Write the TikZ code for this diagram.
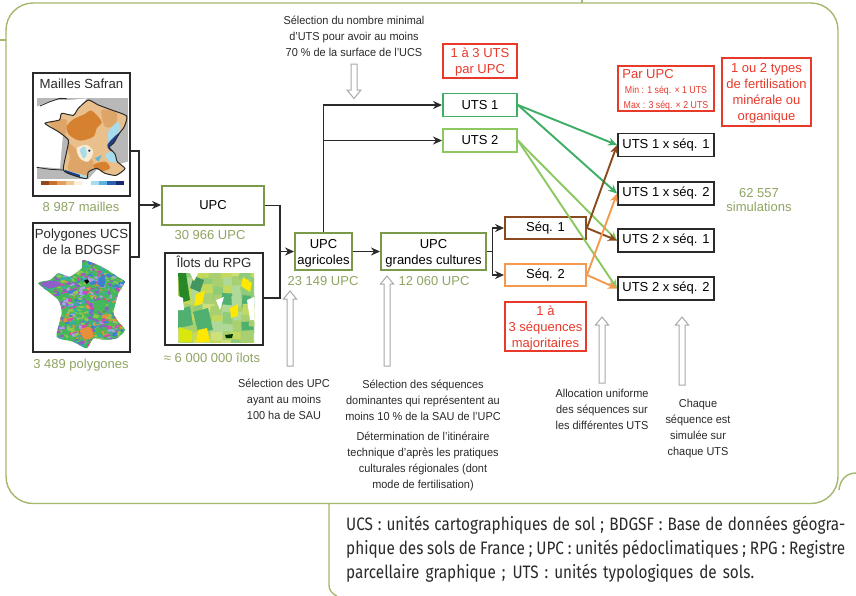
\documentclass[tikz,border=0pt]{standalone}
\usepackage{fontspec}
\setmainfont{Liberation Sans}
\newfontfamily\narrowfont[FakeStretch=0.88]{Liberation Sans}
\newfontfamily\labelfont[FakeStretch=0.95]{Liberation Sans}
\newfontfamily\legendfont[FakeStretch=0.85]{Fira Sans}
\usetikzlibrary{arrows.meta}
\definecolor{framegreen}{HTML}{A3B86C}
\definecolor{olive}{HTML}{8FA562}
\definecolor{upcgreen}{HTML}{7A9A4A}
\definecolor{utsone}{HTML}{3DAE64}
\definecolor{utstwo}{HTML}{8CC860}
\definecolor{seqone}{HTML}{8A4A1E}
\definecolor{seqtwo}{HTML}{F49A50}
\definecolor{redbox}{HTML}{E8392B}
\definecolor{ink}{HTML}{2A2A2A}
\definecolor{hollow}{HTML}{A8A8A8}
\definecolor{tanbase}{HTML}{E9C08C}
\definecolor{tandark}{HTML}{DDA567}
\definecolor{orangedark}{HTML}{D6812F}
\definecolor{cream}{HTML}{F7EBD2}
\definecolor{icy}{HTML}{A8DCEC}
\definecolor{skyb}{HTML}{5AB4E0}
\definecolor{navy}{HTML}{1F3F8A}
\definecolor{pA}{HTML}{8E5FC8}
\definecolor{pB}{HTML}{45B85A}
\definecolor{pC}{HTML}{3F7FD0}
\definecolor{pD}{HTML}{D848A8}
\definecolor{pE}{HTML}{E88F3C}
\definecolor{pF}{HTML}{35B0A0}
\definecolor{pG}{HTML}{A9A0E8}
\definecolor{pH}{HTML}{8FCB4A}
\definecolor{iA}{HTML}{C3D95E}
\definecolor{iB}{HTML}{8FCB78}
\definecolor{iC}{HTML}{4FB070}
\definecolor{iD}{HTML}{CFE07A}
\definecolor{iE}{HTML}{A8D070}
\definecolor{iF}{HTML}{B0D898}
\newcommand{\topstrut}{\rule{0pt}{12.5pt}}
\tikzset{
  framing/.style={draw=framegreen,line width=1.4},
  basebox/.style={draw=#1,line width=1.9,inner sep=0pt,align=center,fill=none,font=\fontsize{13}{16}\selectfont},
  blackbox/.style={basebox=ink},
  upcbox/.style={basebox=upcgreen},
  rednote/.style={basebox=redbox,text=redbox,font=\fontsize{13}{16}\selectfont},
  olivetext/.style={text=olive,inner sep=0pt,align=center,font=\fontsize{13}{14}\selectfont},
  smalltext/.style={text=ink,inner sep=0pt,align=center,font=\labelfont\fontsize{11.5}{16}\selectfont},
  titletext/.style={text=ink,inner sep=0pt,align=center,font=\fontsize{13.2}{16}\selectfont},
  link/.style={draw=ink,line width=1.9},
  tiplink/.style={link,-{Stealth[length=9pt,width=8pt]}},
  colourlink/.style={draw=#1,line width=1.9,-{Stealth[length=9pt,width=8pt]}},
  hollowarrow/.style={draw=hollow,fill=white,line width=1}
}
\newcommand{\arrowup}[3]{% x, top, bottom
  \path[hollowarrow] (#1-3,#3) -- (#1-3,#2+8) -- (#1-6.5,#2+8) -- (#1,#2) -- (#1+6.5,#2+8) -- (#1+3,#2+8) -- (#1+3,#3) -- cycle;}
\newcommand{\frpath}{(175,30) (205,45) (245,60) (290,78) (283,110) (268,130) (252,158) (238,172) (255,192) (262,215) (285,236) (258,256) (225,250) (200,235) (175,246) (170,266) (130,256) (100,240) (110,185) (115,150) (85,125) (45,100) (88,90) (95,70) (130,76) (145,55)}
\newcommand{\polypath}{(160,30) (215,50) (270,85) (285,95) (265,130) (255,165) (250,190) (265,215) (285,240) (260,265) (225,270) (190,265) (170,295) (130,275) (80,260) (95,190) (85,150) (25,100) (60,90) (85,70) (120,80) (155,55)}
\begin{document}
\begin{tikzpicture}[x=1pt,y=-1pt]
\useasboundingbox (0,0) rectangle (856,595);
\fill[white] (0,0) rectangle (856,595);
% frame and legend panel
\draw[framing,rounded corners=27] (6,3) rectangle (838,503.5);
\draw[framing] (0,40) -- (6,40);
\draw[framing] (582,0) -- (582,3);
\draw[framing] (329,503.5) -- (329,585) .. controls (329,590) and (332,594) .. (337,596);
\draw[framing] (839,490) .. controls (840,480) and (846,473) .. (856,473);
\node[anchor=north west,inner sep=0pt,align=left,font=\legendfont\fontsize{18}{24}\selectfont,text=ink] (legend) at (346,516)
 {\makebox[499pt][s]{UCS : unités cartographiques de sol ; BDGSF : Base de données géogra-}\\
  \makebox[499pt][s]{phique des sols de France ; UPC : unités pédoclimatiques ; RPG : Registre}\\
  \makebox[408pt][s]{parcellaire graphique ; UTS : unités typologiques de sols.}};
% Safran map
\begin{scope}[shift={(30,90)},x=0.3333pt,y=-0.3333pt]
  \fill[black!28] (20,25) rectangle (295,268);
  \fill[white] (20,50) -- (70,30) -- (120,30) -- (170,25) -- (100,120) -- (90,235) -- (20,230) -- cycle;
  \fill[white] (200,240) -- (295,215) -- (295,268) -- (175,268) -- cycle;
  \draw[ink,line width=0.8] (30,48) -- (60,35) -- (90,25) -- (110,26);
  \draw[ink,line width=0.8] (20,232) -- (60,238) -- (100,240);
  \begin{scope}
    \clip plot[smooth cycle,tension=0.35] coordinates {\frpath};
    \fill[tanbase] (20,20) rectangle (295,270);
    \fill[tandark] plot[smooth cycle] coordinates {(60,100) (110,90) (105,150) (120,200) (115,240) (170,255) (190,215) (130,170)};
    \fill[orangedark] plot[smooth cycle] coordinates {(110,110) (130,88) (165,72) (185,62) (215,95) (200,115) (190,140) (150,152) (118,135)};
    \fill[tandark] plot[smooth cycle] coordinates {(215,60) (260,70) (255,105) (225,110)};
    \fill[cream] plot[smooth cycle] coordinates {(140,175) (170,165) (190,185) (175,215) (150,205)};
    \fill[icy] plot[smooth cycle] coordinates {(150,180) (165,170) (170,195) (160,205)};
    \fill[navy] (178,182) circle (4);
    \fill[orangedark] plot[smooth cycle] coordinates {(190,225) (225,215) (240,235) (205,245)};
    \fill[icy] plot[smooth cycle] coordinates {(235,125) (265,95) (270,120) (240,165)};
    \fill[navy] plot[smooth cycle] coordinates {(232,165) (265,130) (295,118) (290,150) (250,185)};
    \fill[icy] plot[smooth cycle] coordinates {(225,195) (250,185) (262,215) (240,215)};
    \fill[skyb] (195,205) -- (215,195) -- (205,215) -- cycle;
    \fill[icy] (100,238) -- (170,258) -- (170,270) -- (100,250) -- cycle;
    \fill[navy] (105,240) -- (150,255) -- (150,262) -- (105,248) -- cycle;
  \end{scope}
  \draw[ink,line width=1] plot[smooth cycle,tension=0.35] coordinates {\frpath};
  \foreach \c [count=\k from 0] in {8C4A1C,C8702A,DFA05F,F0C890,FAF0DC,FFFFFF,A8DCEC,5AB4E0,2A60B0,1A2A70} {
    \definecolor{tmpc}{HTML}{\c}
    \fill[tmpc] (32+25*\k,272) rectangle ++(25,14);
  }
\end{scope}
% polygons map
\begin{scope}[shift={(30,250)},x=0.3333pt,y=-0.3333pt]
  \begin{scope}
    \clip plot[smooth cycle,tension=0.35] coordinates {\polypath};
    \fill[pB] (20,25) rectangle (290,300);
    \pgfmathsetseed{11}
    \foreach \i in {1,...,1100} {
      \pgfmathsetmacro\px{20+rnd*270}
      \pgfmathsetmacro\py{25+rnd*275}
      \pgfmathsetmacro\dxa{5+rnd*12}
      \pgfmathsetmacro\dya{-7+rnd*14}
      \pgfmathsetmacro\dxb{-6+rnd*12}
      \pgfmathsetmacro\dyb{3+rnd*8}
      \pgfmathparse{{"pA","pB","pC","pD","pE","pF","pG","pH","pB","pF","pA","pH"}[int(rnd*12)]}
      \edef\cn{\pgfmathresult}
      \fill[\cn] (\px,\py) -- ++(\dxa,\dya) -- ++(\dxb,\dyb) -- ++(-\dxa,-\dya*0.6) -- cycle;
    }
    \fill[pE] plot[smooth cycle] coordinates {(150,240) (180,232) (190,260) (165,268)};
    \fill[pA] plot[smooth cycle] coordinates {(30,100) (70,92) (90,105) (60,115)};
    \fill[pC] plot[smooth cycle] coordinates {(205,85) (225,78) (222,110) (205,105)};
    \fill[pB] plot[smooth cycle] coordinates {(190,155) (230,150) (220,180) (195,180)};
    \fill[pD] (120,150) circle (6);
  \end{scope}
  \fill[black] (162,92) -- (172,88) -- (178,95) -- (170,102) -- cycle;
  \fill[black] (222,186) circle (2);
\end{scope}
% ilots map
\begin{scope}
  \clip (178,273) rectangle (254,342);
  \fill[iA] (178,273) rectangle (254,342);
  \pgfmathsetseed{5}
  \foreach \cx in {172,182,...,254} \foreach \cy in {268,277,...,342} {
    \pgfmathsetmacro\jx{-2+rnd*4}
    \pgfmathsetmacro\jy{-2+rnd*4}
    \pgfmathsetmacro\rt{-10+rnd*20}
    \pgfmathparse{{"iA","iB","iC","iD","iE","iF","iA","iE"}[int(rnd*8)]}
    \edef\cn{\pgfmathresult}
    \fill[\cn,rotate around={\rt:(\cx+\jx,\cy+\jy)}] (\cx+\jx,\cy+\jy) rectangle ++(13,12);
  }
  \fill[green!45!black!85] (178,273) -- (186,273) -- (190,300) -- (180,303) -- cycle;
  \fill[iC!85!black] (194,276) -- (204,280) -- (200,292) -- (190,288) -- cycle;
  \fill[iC] (193,312) -- (208,308) -- (213,330) -- (198,332) -- cycle;
  \fill[iC] (178,310) -- (190,306) -- (193,325) -- (178,328) -- cycle;
  \fill[yellow!90!orange] (196,294) -- (205,291) -- (202,304) -- (194,306) -- cycle;
  \fill[yellow!90!orange] (198,330) -- (207,328) -- (210,342) -- (196,342) -- cycle;
  \fill[yellow!90!orange] (243,277) -- (252,283) -- (250,292) -- (241,286) -- cycle;
  \fill[yellow!90!orange] (230,308) -- (238,304) -- (238,316) -- (231,318) -- cycle;
  \fill[yellow!85!green] (179,327) -- (192,331) -- (192,342) -- (179,342) -- cycle;
  \fill[white] (178,296) -- (183,298) -- (184,310) -- (178,310) -- cycle;
  \fill[white] (190,273) -- (198,273) -- (194,281) -- cycle;
  \fill[white] (216,300) -- (224,297) -- (220,310) -- cycle;
  \fill[white] (247,300) -- (254,297) -- (254,320) -- (250,320) -- cycle;
  \fill[black!80!green] (225,335) -- (233,334) -- (232,338) -- (226,338) -- cycle;
\end{scope}
% source boxes
\node[blackbox,minimum width=97,minimum height=123] (safran) at (81.5,134.5) {};
\node[blackbox,minimum width=97,minimum height=129] (polyg) at (81.5,287.5) {};
\node[blackbox,minimum width=98,minimum height=92] (rpg) at (214,299) {};
\node[titletext] (tsafran) at (81.5,84) {Mailles Safran};
\node[titletext] (tpolyg) at (81.5,242) {Polygones UCS\\de la BDGSF};
\node[titletext] (trpg) at (214,262) {Îlots du RPG};
\node[upcbox,minimum width=102,minimum height=39] (upc) at (213,205.5) {UPC};
\node[upcbox,minimum width=57,minimum height=37] (agri) at (323.5,251.5) {\topstrut UPC\\agricoles};
\node[upcbox,minimum width=105,minimum height=37] (gc) at (433.5,251.5) {\topstrut UPC\\grandes cultures};
\node[basebox=utsone,minimum width=74,minimum height=23] (uts1) at (480,105) {UTS 1};
\node[basebox=utstwo,minimum width=74,minimum height=23] (uts2) at (480,140.5) {UTS 2};
\node[basebox=seqone,minimum width=81,minimum height=22] (s1) at (545.5,228) {Séq. 1};
\node[basebox=seqtwo,minimum width=81,minimum height=22] (s2) at (545.5,275) {Séq. 2};
\node[blackbox,minimum width=96,minimum height=23] (c11) at (666,145) {UTS 1 x séq. 1};
\node[blackbox,minimum width=96,minimum height=23] (c12) at (666,193.5) {UTS 1 x séq. 2};
\node[blackbox,minimum width=96,minimum height=23] (c21) at (666,240.5) {UTS 2 x séq. 1};
\node[blackbox,minimum width=96,minimum height=23] (c22) at (666,288.5) {UTS 2 x séq. 2};
% red notes
\node[rednote,minimum width=74,minimum height=34] (n1) at (480,61) {\topstrut 1 à 3 UTS\\par UPC};
\node[rednote,minimum width=96,minimum height=45,align=center] (n2) at (666,88.5) {\hspace*{-36pt}\topstrut Par UPC\\[-1.5pt]{\narrowfont\fontsize{10}{13}\selectfont Min : 1 séq. × 1 UTS}\\[-1pt]{\narrowfont\fontsize{10}{13}\selectfont Max : 3 séq. × 2 UTS}};
\node[rednote,minimum width=89,minimum height=68] (n3) at (766.5,92) {\topstrut 1 ou 2 types\\de fertilisation\\minérale ou\\organique};
\node[rednote,minimum width=81,minimum height=49] (n4) at (545.5,326.5) {\topstrut 1 à\\3 séquences\\majoritaires};
% olive counts
\node[olivetext] (l1) at (81,207) {8 987 mailles};
\node[olivetext] (l2) at (81,365) {3 489 polygones};
\node[olivetext] (l3) at (210,235) {30 966 UPC};
\node[olivetext] (l4) at (212,358) {≈ 6 000 000 îlots};
\node[olivetext] (l5) at (323,281) {23 149 UPC};
\node[olivetext] (l6) at (434,281) {12 060 UPC};
\node[olivetext] (l7) at (759,200) {62 557\\simulations};
% small texts
\node[smalltext] (t1) at (354,36) {Sélection du nombre minimal\\d’UTS pour avoir au moins\\70 \% de la surface de l’UCS};
\node[smalltext] (t2) at (284,399) {Sélection des UPC\\ayant au moins\\100 ha de SAU};
\node[smalltext] (t3) at (423,400.5) {Sélection des séquences\\dominantes qui représentent au\\moins 10 \% de la SAU de l’UPC};
\node[smalltext] (t4) at (423,461.5) {Détermination de l’itinéraire\\technique d’après les pratiques\\culturales régionales (dont\\mode de fertilisation)};
\node[smalltext] (t5) at (602,409.5) {Allocation uniforme\\des séquences sur\\les différentes UTS};
\node[smalltext] (t6) at (698,428.5) {Chaque\\séquence est\\simulée sur\\chaque UTS};
% hollow arrows
\path[hollowarrow] (351,64) -- (351,90) -- (347,90) -- (354,98.5) -- (361,90) -- (357,90) -- (357,64) -- cycle;
\arrowup{290}{291}{366}
\arrowup{387}{276}{366}
\arrowup{602}{317}{383}
\arrowup{682}{317}{385}
% black connectors
\coordinate (j1) at (139,205);
\coordinate (j2) at (280,251.5);
\coordinate (j3) at (492.5,251.5);
\draw[link] (safran.east |- 0,151) -| (j1);
\draw[link] (polyg.east |- 0,257) -| (j1);
\draw[tiplink] (j1) -- (upc.west |- j1);
\draw[link] (upc.east) -| (j2);
\draw[link] (rpg.east |- 0,298) -| (j2);
\draw[tiplink] (j2) -- (agri.west);
\draw[tiplink] (agri.north) |- (uts1.west);
\draw[tiplink] (agri.north |- uts2.west) -- (uts2.west);
\draw[tiplink] (agri.east) -- (gc.west);
\draw[link] (gc.east) -- (j3);
\draw[tiplink] (j3) |- (s1.west);
\draw[tiplink] (j3) |- (s2.west);
% coloured connectors
\draw[colourlink=utsone] (uts1.east) -- (c11.west);
\draw[colourlink=utsone] (uts1.east) -- (c12.west);
\draw[colourlink=utstwo] (uts2.east) -- (c21.west);
\draw[colourlink=utstwo] (uts2.east) -- (c22.west);
\draw[colourlink=seqone] (s1.east) -- (c11.west);
\draw[colourlink=seqone] (s1.east) -- (c21.west);
\draw[colourlink=seqtwo] (s2.east) -- (c12.west);
\draw[colourlink=seqtwo] (s2.east) -- (c22.west);
\end{tikzpicture}
\end{document}
